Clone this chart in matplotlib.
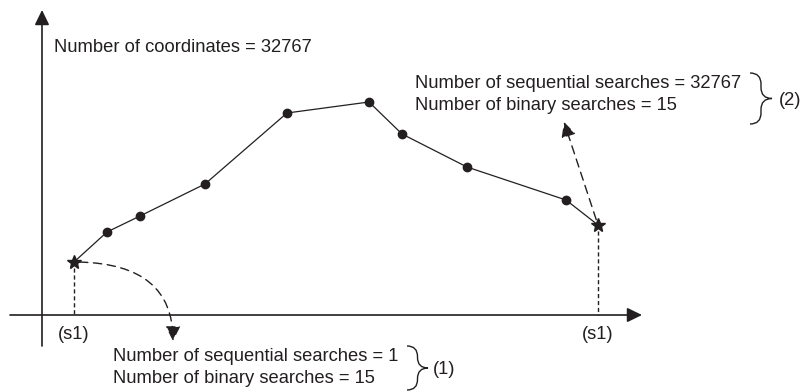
import matplotlib.pyplot as plt
from matplotlib.path import Path
from matplotlib.patches import PathPatch

plt.rcParams['font.family'] = ['Liberation Sans', 'DejaVu Sans']

# line points (pixel space of the original drawing, y downwards)
pt_x = [74, 107, 140, 205, 287, 369, 402, 467, 566, 598]
pt_y = [262, 232, 216, 184, 113, 102, 134, 167, 200, 225]
axis_y = 315
s1_label = '(s1)'
coord_text = 'Number of coordinates = 32767'
upper_lines = ['Number of sequential searches = 32767', 'Number of binary searches = 15']
lower_lines = ['Number of sequential searches = 1', 'Number of binary searches = 15']
ink = '#231f20'
fs = 13.2


def brace(ax, x0, top, bot, w):
    mid = (top + bot) / 2.0
    xm = x0 + w / 2.0
    r = w / 2.0
    verts = [(x0, top), (xm, top), (xm, top + r), (xm, mid - r), (xm, mid), (x0 + w, mid),
             (xm, mid), (xm, mid + r), (xm, bot - r), (xm, bot), (x0, bot)]
    codes = [Path.MOVETO, Path.CURVE3, Path.CURVE3, Path.LINETO, Path.CURVE3, Path.CURVE3,
             Path.CURVE3, Path.CURVE3, Path.LINETO, Path.CURVE3, Path.CURVE3]
    ax.add_patch(PathPatch(Path(verts, codes), fc='none', ec=ink, lw=1.0))


fig = plt.figure(figsize=(8.02, 3.92), dpi=100)
ax = fig.add_axes([0, 0, 1, 1])
ax.set_xlim(0, 802)
ax.set_ylim(392, 0)
ax.axis('off')

# axes with arrow heads
axis_arrow = dict(arrowstyle='-|>,head_length=0.45,head_width=0.22', color=ink, lw=1.2,
                  mutation_scale=20, shrinkA=0, shrinkB=0)
ax.annotate('', xy=(42, 10), xytext=(42, 346), arrowprops=axis_arrow)
ax.annotate('', xy=(642, axis_y), xytext=(10, axis_y), arrowprops=axis_arrow)

# dashed drop lines
for i in (0, -1):
    ax.plot([pt_x[i], pt_x[i]], [pt_y[i] + 6, axis_y], color=ink, lw=1.0, ls=(0, (3, 2)))
    ax.text(pt_x[i], 339, s1_label, ha='center', va='baseline', fontsize=fs, color=ink)

# the curve
ax.plot(pt_x, pt_y, color=ink, lw=0.9)
ax.plot(pt_x[1:-1], pt_y[1:-1], 'o', color=ink, ms=6)
ax.plot([pt_x[0], pt_x[-1]], [pt_y[0], pt_y[-1]], '*', color=ink, ms=10)

# dashed arrows
dash_arrow = dict(arrowstyle='-|>,head_length=0.5,head_width=0.25', color=ink, lw=1.0,
                  ls=(0, (6, 4)), mutation_scale=18, shrinkA=4, shrinkB=0)
ax.annotate('', xy=(173, 341), xytext=(pt_x[0], pt_y[0]),
            arrowprops=dict(dash_arrow, connectionstyle='angle3,angleA=0,angleB=90'))
ax.annotate('', xy=(564, 122), xytext=(pt_x[-1], pt_y[-1]), arrowprops=dash_arrow)

# texts
ax.text(54, 52, coord_text, ha='left', va='baseline', fontsize=fs, color=ink)
for k, line in enumerate(upper_lines):
    ax.text(415, 88 + 22 * k, line, ha='left', va='baseline', fontsize=fs, color=ink)
for k, line in enumerate(lower_lines):
    ax.text(113, 361 + 22 * k, line, ha='left', va='baseline', fontsize=fs, color=ink)

brace(ax, 750, 73, 124, 22)
ax.text(779, 105, '(2)', ha='left', va='baseline', fontsize=fs, color=ink)
brace(ax, 407, 346, 390, 21)
ax.text(433, 374, '(1)', ha='left', va='baseline', fontsize=fs, color=ink)

fig.savefig('out.png', dpi=100)
